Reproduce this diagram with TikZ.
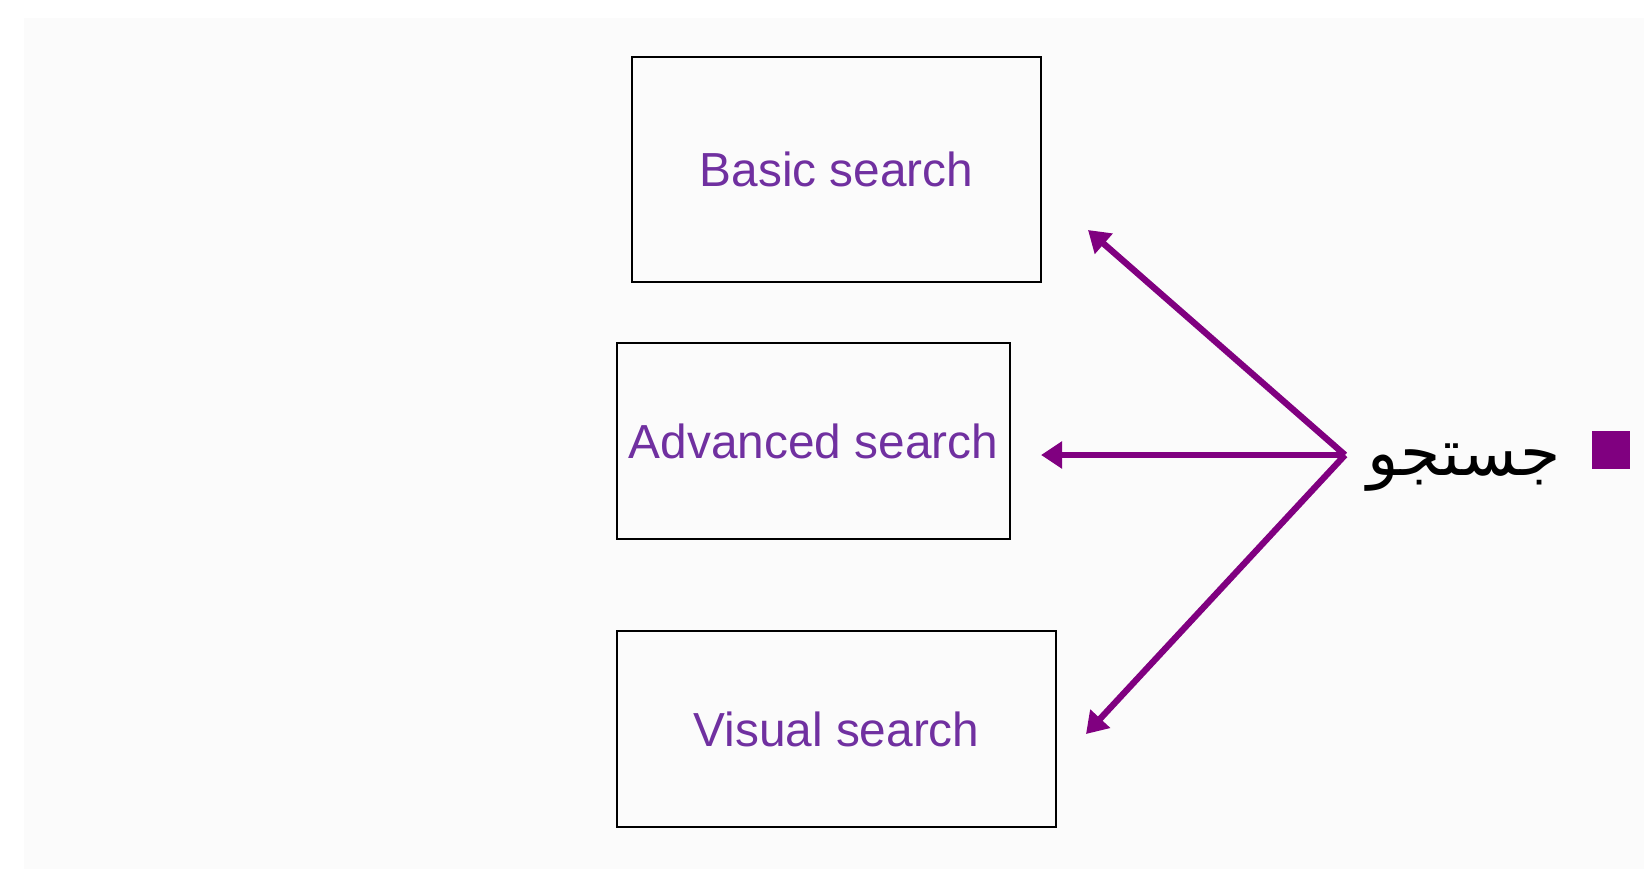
\documentclass[tikz,border=0pt]{standalone}
\usepackage{fontspec}
\setmainfont{Liberation Sans}
\newfontfamily\arabicfont[Script=Arabic]{DejaVu Sans}
\TeXXeTstate=1
\usetikzlibrary{arrows.meta}
\definecolor{boxtext}{HTML}{7030A0}
\definecolor{arrowpurple}{HTML}{800080}
\tikzset{
  searchbox/.style={draw=black,line width=1.1pt,inner sep=0pt,text=boxtext,
    font=\fontsize{27.2}{32}\selectfont},
  linkarrow/.style={draw=arrowpurple,line width=3.6pt,
    -{Triangle[length=0.42cm,width=0.52cm]}}
}
\begin{document}
\begin{tikzpicture}[x=0.02cm,y=-0.02cm]
\useasboundingbox (0,0) rectangle (1652,879);
\fill[white] (0,0) rectangle (1652,879);
\fill[black!1.5] (24,18) rectangle (1644,869);
% boxes
\node[searchbox,minimum width=8.18cm,minimum height=4.5cm] (basic) at (836.5,169.5) {Basic search};
\node[searchbox,minimum width=7.86cm,minimum height=3.92cm] (advanced) at (813.5,441) {Advanced search};
\node[searchbox,minimum width=8.78cm,minimum height=3.92cm] (visual) at (836.5,729) {Visual search};
% bullet and label
\fill[arrowpurple] (1592,431) rectangle (1630,469);
\node[anchor=east,inner sep=0pt,font=\fontsize{37}{44}\arabicfont] (search) at (1561,468) {\beginR جستجو\endR};
\coordinate (hub) at (1345,455);
\coordinate (basictip) at (1088,230);
\coordinate (advancedtip) at (1041,455);
\coordinate (visualtip) at (1086,734);
\draw[linkarrow] (hub) -- (basictip);
\draw[linkarrow] (hub) -- (advancedtip);
\draw[linkarrow] (hub) -- (visualtip);
\end{tikzpicture}
\end{document}
